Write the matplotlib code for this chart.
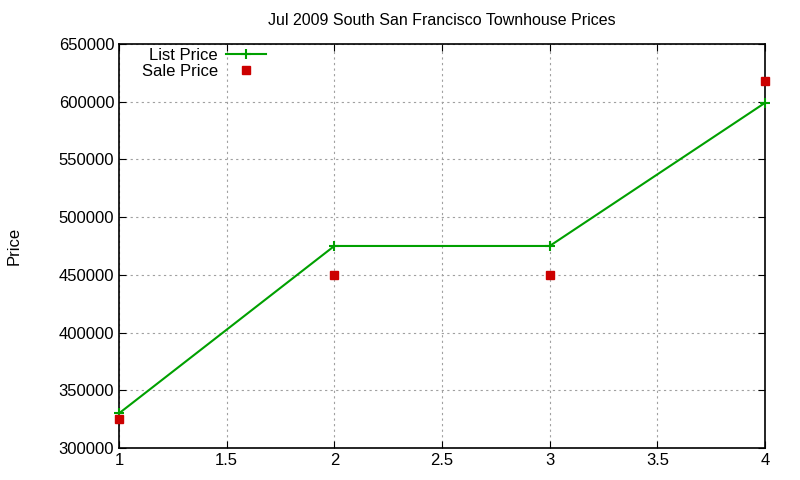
import matplotlib
matplotlib.use("Agg")
import matplotlib.pyplot as plt

plt.rcParams['font.family'] = ['Liberation Sans', 'DejaVu Sans']

x = [1, 2, 3, 4]
list_price = [330000, 475000, 475000, 599000]
sale_price = [325000, 450000, 450000, 618000]

fig = plt.figure(figsize=(8, 4.8), dpi=100)
ax = fig.add_axes([0.14875, 0.0667, 0.8075, 0.8417])

ax.plot(x, list_price, color='#00a000', lw=1.5, marker='+', ms=7, mew=1.5,
        label='List Price', clip_on=False, zorder=3)
ax.plot(x, sale_price, ls='none', color='#cc0000', marker='s', ms=6,
        label='Sale Price', clip_on=False, zorder=3)

ax.set_xlim(1, 4)
ax.set_ylim(300000, 650000)
ax.set_xticks([1, 1.5, 2, 2.5, 3, 3.5, 4])
ax.set_xticklabels(['1', '1.5', '2', '2.5', '3', '3.5', '4'])
ax.set_yticks(range(300000, 650001, 50000))
ax.set_yticklabels([str(v) for v in range(300000, 650001, 50000)])
ax.tick_params(direction='in', labelsize=12, top=True, right=True, length=5)
ax.grid(True, color='#a0a0a0', ls=(0, (2, 3)), lw=0.8)
for s in ax.spines.values():
    s.set_linewidth(1.2)

ax.set_title('Jul 2009 South San Francisco Townhouse Prices', fontsize=11.5, pad=14)
ax.set_ylabel('Price', fontsize=12, labelpad=27)

ax.legend(loc='upper left', frameon=False, markerfirst=False, fontsize=12,
          handlelength=2.4, handletextpad=0.5, borderpad=0.1, labelspacing=0.05,
          bbox_to_anchor=(0.02, 1.015))

fig.savefig('out.png', dpi=100)
